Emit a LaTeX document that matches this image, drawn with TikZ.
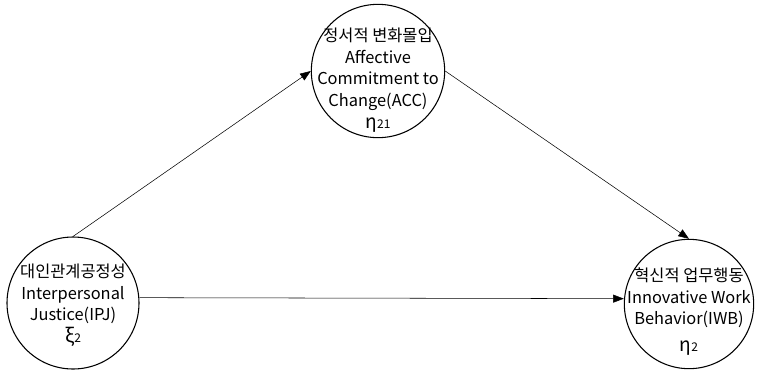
\documentclass[tikz,border=0pt]{standalone}
\usepackage{fontspec}
\setmainfont{Noto Sans CJK KR}
\usetikzlibrary{arrows.meta,positioning}

\begin{document}
\begin{tikzpicture}[x=.75pt,y=-.75pt,
    latent/.style={draw, thick, circle, inner sep=0pt},
    lbl/.style={align=center, font=\fontsize{12.3}{16.2}\selectfont},
    effect/.style={-{Triangle[length=8pt,width=6pt]}}]
  \useasboundingbox (0,0) rectangle (757,369);
  % latent constructs
  \node[latent, minimum size=100pt] (acc) at (378,71) {};
  \node[latent, minimum size=99pt] (ipj) at (73,303) {};
  \node[latent, minimum size=97pt] (iwb) at (689,304) {};
  % labels
  \node[lbl] (acctext) at (378,80) {정서적 변화몰입\\Affective\\Commitment to\\Change(ACC)\\{\Large η}{\small 21}};
  \node[lbl] (ipjtext) at (73,305) {대인관계공정성\\Interpersonal\\Justice(IPJ)\\{\Large ξ}{\small 2}};
  \node[lbl] (iwbtext) at (689,298) {혁신적 업무행동\\Innovative Work\\Behavior(IWB)};
  \node[lbl] (iwbeta) at (689,348) {{\Large η}{\small 2}};
  % paths
  \draw[effect] (ipj.north) -- (acc.west);
  \draw[effect] (acc.east) -- (iwb.north);
  \draw[effect] ([yshift=4]ipj.east) -- ([yshift=4]iwb.west);
\end{tikzpicture}
\end{document}
